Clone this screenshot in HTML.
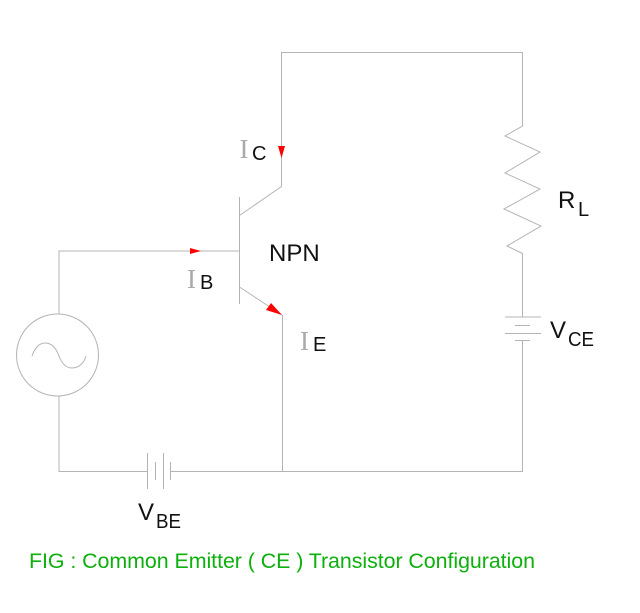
<!DOCTYPE html>
<html>
<head>
<meta charset="utf-8">
<style>
html,body{margin:0;padding:0;background:#fff}
svg{display:block}
text{font-family:"Liberation Sans",Arial,sans-serif;fill:#111}
.i{font-family:"Liberation Serif",serif;fill:#aaa;font-size:27px}
</style>
</head>
<body>
<svg width="640" height="613" viewBox="0 0 640 613" xmlns="http://www.w3.org/2000/svg">
<rect width="640" height="613" fill="#fff"/>
<g fill="none" stroke="#b4b4b4" stroke-width="1">
  <!-- collector loop -->
  <path d="M239.5 215.5L281.5 186.5V52.5H522.5V126L505 136L540 152L505 173L540 189L504 209L541 226L507 246L522.5 253.5V317"/>
  <!-- CE battery -->
  <path d="M505 317H541M515 325.500H530M505 333.500H541M515 340.500H530"/>
  <path d="M522.5 341V471.5H171"/>
  <!-- transistor -->
  <path d="M239.5 197V304"/>
  <path d="M239.5 287L282 315"/>
  <path d="M282.5 315V471"/>
  <!-- base and source -->
  <path d="M59 314V251H239"/>
  <circle cx="57.5" cy="355" r="41"/>
  <path d="M32 356C35 347 40 343 45 343C52 343 56 348 59 356C62 364 66 368 72 368C79 368 84 363 86 356"/>
  <path d="M59 396V471.5H147"/>
  <!-- BE battery -->
  <path d="M147.5 453V489M155.5 462V480M163.5 453V489M170.5 462V480"/>
</g>
<!-- arrowheads -->
<g fill="#f00" stroke="none">
  <polygon points="278,146 285,146 281.5,158"/>
  <polygon points="190,248 201,251 190,254"/>
  <polygon points="282,315 266,310 271,303"/>
</g>
<!-- labels -->
<text class="i" x="239.500" y="158">I</text>
<text x="252" y="160" font-size="20">C</text>
<text class="i" x="187" y="288">I</text>
<text x="200" y="289" font-size="20">B</text>
<text class="i" x="300" y="350">I</text>
<text x="313" y="351" font-size="20">E</text>
<text x="269" y="261" font-size="24">NPN</text>
<text x="558" y="208" font-size="24">R</text>
<text x="578" y="216" font-size="20">L</text>
<text x="550" y="338" font-size="24">V</text>
<text x="568" y="346" font-size="20" textLength="26" lengthAdjust="spacingAndGlyphs">CE</text>
<text x="138" y="520" font-size="24">V</text>
<text x="156" y="528" font-size="20" textLength="25" lengthAdjust="spacingAndGlyphs">BE</text>
<text x="29" y="568" font-size="21.400" style="fill:#0db00d" textLength="506" lengthAdjust="spacing">FIG : Common Emitter ( CE ) Transistor Configuration</text>
</svg>
</body>
</html>
